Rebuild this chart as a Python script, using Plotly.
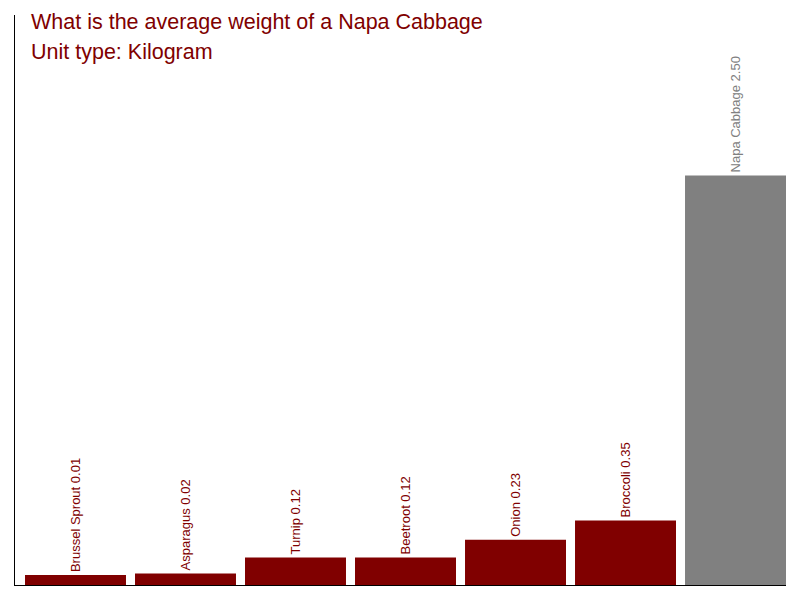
import plotly.graph_objects as go

# dados
vegetables = ["Brussel Sprout", "Asparagus", "Turnip", "Beetroot", "Onion", "Broccoli", "Napa Cabbage"]
weights = [0.01, 0.02, 0.12, 0.12, 0.23, 0.35, 2.50]
highlight = "Napa Cabbage"

red = "#800000"
grey = "#808080"
y_floor = -0.052  # bars start at the bottom axis line

colors = [grey if v == highlight else red for v in vegetables]
labels = [f"{v} {w:.2f}" for v, w in zip(vegetables, weights)]

fig = go.Figure(go.Bar(
    x=vegetables,
    y=[w - y_floor for w in weights],
    base=y_floor,
    marker=dict(color=colors, line=dict(width=0)),
    text=labels,
    textposition="outside",
    textangle=-90,
    textfont=dict(family="Liberation Sans, Arial", size=13, color=colors),
    constraintext="none",
    cliponaxis=False,
    hoverinfo="skip",
))

fig.update_layout(
    width=800, height=600,
    margin=dict(l=7, r=22, t=7, b=23),
    plot_bgcolor="white", paper_bgcolor="white",
    bargap=0.082,
    showlegend=False,
    font=dict(family="Liberation Sans, Arial"),
)
fig.update_xaxes(range=[-0.55, 6.459], showticklabels=False, ticks="",
                 showline=True, linecolor="black", linewidth=1, showgrid=False)
fig.update_yaxes(range=[y_floor, 3.5], showticklabels=False, ticks="",
                 showline=True, linecolor="black", linewidth=1, showgrid=False, zeroline=False)

# titulo em duas linhas
fig.add_annotation(text="What is the average weight of a Napa Cabbage", xref="paper", yref="paper",
                   x=0.018, y=0.988, xanchor="left", yanchor="middle", showarrow=False,
                   font=dict(size=21.5, color=red))
fig.add_annotation(text="Unit type: Kilogram", xref="paper", yref="paper",
                   x=0.018, y=0.935, xanchor="left", yanchor="middle", showarrow=False,
                   font=dict(size=21.5, color=red))

fig.write_html("out.html")
